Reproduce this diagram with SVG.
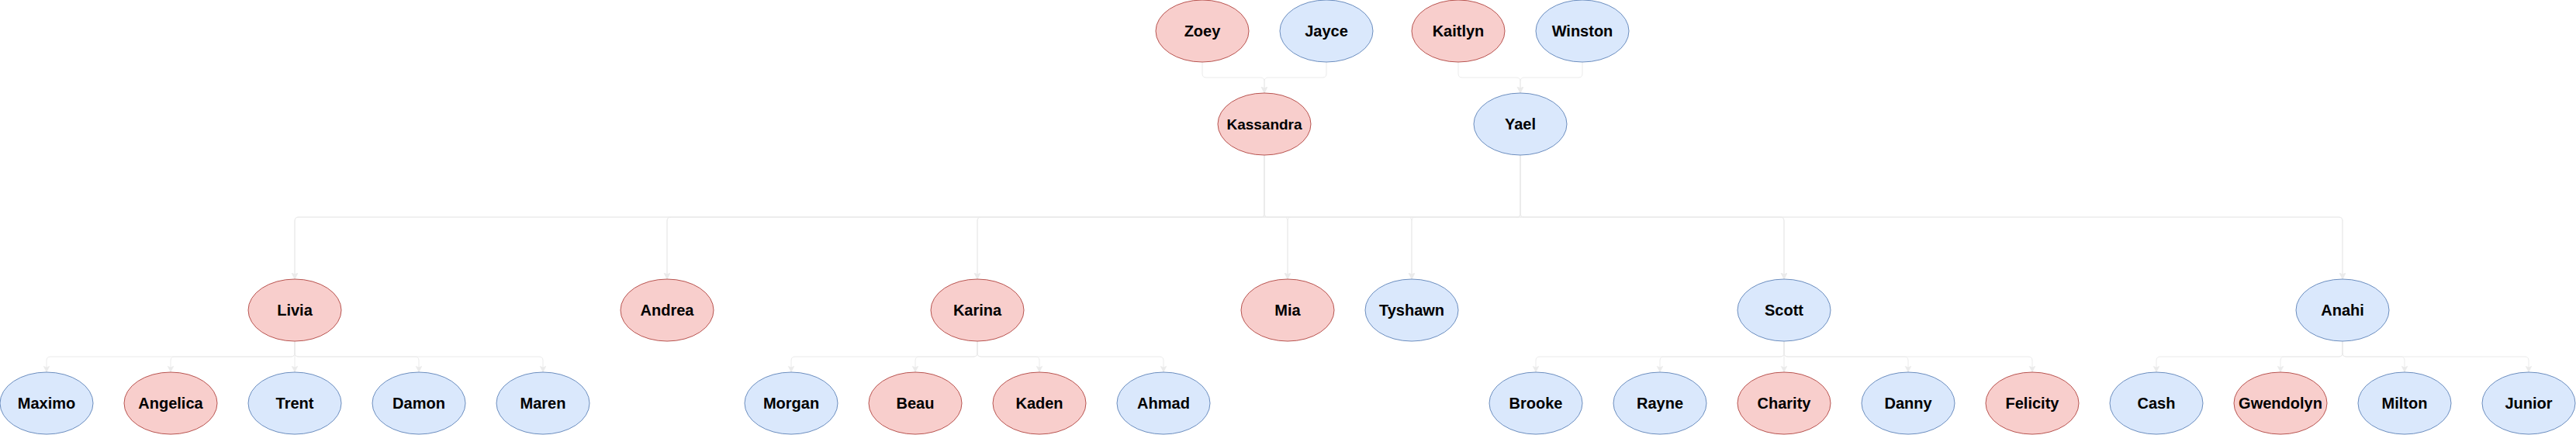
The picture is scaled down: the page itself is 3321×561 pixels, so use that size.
<svg xmlns="http://www.w3.org/2000/svg" width="3321" height="561" viewBox="0 0 3321 561">
<style>
.f{fill:#f8cecc;stroke:#b85450;stroke-width:1}
.m{fill:#dae8fc;stroke:#6c8ebf;stroke-width:1}
text{font-family:"Liberation Sans",Arial,Helvetica,sans-serif;font-weight:bold;font-size:20px;text-anchor:middle;fill:#000}
.e{fill:none;stroke:#ebebeb;stroke-width:1;marker-end:url(#arr)}
</style>
<defs>
<marker id="arr" markerUnits="userSpaceOnUse" markerWidth="10" markerHeight="10" refX="8" refY="4" orient="auto">
<path d="M0,0 L8,4 L0,8 L2,4 Z" fill="#ebebeb" stroke="#ebebeb" stroke-width="0.5"/>
</marker>
</defs>
<rect width="3321" height="561" fill="#ffffff"/>
<g id="connectors">
<path class="e" d="M1550 80 V95 Q1550 100 1555 100 H1625 Q1630 100 1630 105 V120"/>
<path class="e" d="M1710 80 V95 Q1710 100 1705 100 H1635 Q1630 100 1630 105 V120"/>
<path class="e" d="M1880 80 V95 Q1880 100 1885 100 H1955 Q1960 100 1960 105 V120"/>
<path class="e" d="M2040 80 V95 Q2040 100 2035 100 H1965 Q1960 100 1960 105 V120"/>
<path class="e" d="M1630 200 V275 Q1630 280 1625 280 H385 Q380 280 380 285 V360"/>
<path class="e" d="M1630 200 V275 Q1630 280 1625 280 H865 Q860 280 860 285 V360"/>
<path class="e" d="M1630 200 V275 Q1630 280 1625 280 H1265 Q1260 280 1260 285 V360"/>
<path class="e" d="M1630 200 V275 Q1630 280 1635 280 H1655 Q1660 280 1660 285 V360"/>
<path class="e" d="M1630 200 V275 Q1630 280 1635 280 H1815 Q1820 280 1820 285 V360"/>
<path class="e" d="M1630 200 V275 Q1630 280 1635 280 H2295 Q2300 280 2300 285 V360"/>
<path class="e" d="M1630 200 V275 Q1630 280 1635 280 H3015 Q3020 280 3020 285 V360"/>
<path class="e" d="M1960 200 V275 Q1960 280 1955 280 H385 Q380 280 380 285 V360"/>
<path class="e" d="M1960 200 V275 Q1960 280 1955 280 H865 Q860 280 860 285 V360"/>
<path class="e" d="M1960 200 V275 Q1960 280 1955 280 H1265 Q1260 280 1260 285 V360"/>
<path class="e" d="M1960 200 V275 Q1960 280 1955 280 H1665 Q1660 280 1660 285 V360"/>
<path class="e" d="M1960 200 V275 Q1960 280 1955 280 H1825 Q1820 280 1820 285 V360"/>
<path class="e" d="M1960 200 V275 Q1960 280 1965 280 H2295 Q2300 280 2300 285 V360"/>
<path class="e" d="M1960 200 V275 Q1960 280 1965 280 H3015 Q3020 280 3020 285 V360"/>
<path class="e" d="M380 440 V455 Q380 460 375 460 H65 Q60 460 60 465 V480"/>
<path class="e" d="M380 440 V455 Q380 460 375 460 H225 Q220 460 220 465 V480"/>
<path class="e" d="M380 440 V480"/>
<path class="e" d="M380 440 V455 Q380 460 385 460 H535 Q540 460 540 465 V480"/>
<path class="e" d="M380 440 V455 Q380 460 385 460 H695 Q700 460 700 465 V480"/>
<path class="e" d="M1260 440 V455 Q1260 460 1255 460 H1025 Q1020 460 1020 465 V480"/>
<path class="e" d="M1260 440 V455 Q1260 460 1255 460 H1185 Q1180 460 1180 465 V480"/>
<path class="e" d="M1260 440 V455 Q1260 460 1265 460 H1335 Q1340 460 1340 465 V480"/>
<path class="e" d="M1260 440 V455 Q1260 460 1265 460 H1495 Q1500 460 1500 465 V480"/>
<path class="e" d="M2300 440 V455 Q2300 460 2295 460 H1985 Q1980 460 1980 465 V480"/>
<path class="e" d="M2300 440 V455 Q2300 460 2295 460 H2145 Q2140 460 2140 465 V480"/>
<path class="e" d="M2300 440 V480"/>
<path class="e" d="M2300 440 V455 Q2300 460 2305 460 H2455 Q2460 460 2460 465 V480"/>
<path class="e" d="M2300 440 V455 Q2300 460 2305 460 H2615 Q2620 460 2620 465 V480"/>
<path class="e" d="M3020 440 V455 Q3020 460 3015 460 H2785 Q2780 460 2780 465 V480"/>
<path class="e" d="M3020 440 V455 Q3020 460 3015 460 H2945 Q2940 460 2940 465 V480"/>
<path class="e" d="M3020 440 V455 Q3020 460 3025 460 H3095 Q3100 460 3100 465 V480"/>
<path class="e" d="M3020 440 V455 Q3020 460 3025 460 H3255 Q3260 460 3260 465 V480"/>
</g>
<g id="zoey"><ellipse class="f" cx="1550" cy="40" rx="60" ry="40"/><text x="1550" y="47">Zoey</text></g>
<g id="jayce"><ellipse class="m" cx="1710" cy="40" rx="60" ry="40"/><text x="1710" y="47">Jayce</text></g>
<g id="kaitlyn"><ellipse class="f" cx="1880" cy="40" rx="60" ry="40"/><text x="1880" y="47">Kaitlyn</text></g>
<g id="winston"><ellipse class="m" cx="2040" cy="40" rx="60" ry="40"/><text x="2040" y="47">Winston</text></g>
<g id="kassandra"><ellipse class="f" cx="1630" cy="160" rx="60" ry="40"/><text x="1630" y="166.5" style="font-size:19px">Kassandra</text></g>
<g id="yael"><ellipse class="m" cx="1960" cy="160" rx="60" ry="40"/><text x="1960" y="167">Yael</text></g>
<g id="livia"><ellipse class="f" cx="380" cy="400" rx="60" ry="40"/><text x="380" y="407">Livia</text></g>
<g id="andrea"><ellipse class="f" cx="860" cy="400" rx="60" ry="40"/><text x="860" y="407">Andrea</text></g>
<g id="karina"><ellipse class="f" cx="1260" cy="400" rx="60" ry="40"/><text x="1260" y="407">Karina</text></g>
<g id="mia"><ellipse class="f" cx="1660" cy="400" rx="60" ry="40"/><text x="1660" y="407">Mia</text></g>
<g id="tyshawn"><ellipse class="m" cx="1820" cy="400" rx="60" ry="40"/><text x="1820" y="407">Tyshawn</text></g>
<g id="scott"><ellipse class="m" cx="2300" cy="400" rx="60" ry="40"/><text x="2300" y="407">Scott</text></g>
<g id="anahi"><ellipse class="m" cx="3020" cy="400" rx="60" ry="40"/><text x="3020" y="407">Anahi</text></g>
<g id="maximo"><ellipse class="m" cx="60" cy="520" rx="60" ry="40"/><text x="60" y="527">Maximo</text></g>
<g id="angelica"><ellipse class="f" cx="220" cy="520" rx="60" ry="40"/><text x="220" y="527">Angelica</text></g>
<g id="trent"><ellipse class="m" cx="380" cy="520" rx="60" ry="40"/><text x="380" y="527">Trent</text></g>
<g id="damon"><ellipse class="m" cx="540" cy="520" rx="60" ry="40"/><text x="540" y="527">Damon</text></g>
<g id="maren"><ellipse class="m" cx="700" cy="520" rx="60" ry="40"/><text x="700" y="527">Maren</text></g>
<g id="morgan"><ellipse class="m" cx="1020" cy="520" rx="60" ry="40"/><text x="1020" y="527">Morgan</text></g>
<g id="beau"><ellipse class="f" cx="1180" cy="520" rx="60" ry="40"/><text x="1180" y="527">Beau</text></g>
<g id="kaden"><ellipse class="f" cx="1340" cy="520" rx="60" ry="40"/><text x="1340" y="527">Kaden</text></g>
<g id="ahmad"><ellipse class="m" cx="1500" cy="520" rx="60" ry="40"/><text x="1500" y="527">Ahmad</text></g>
<g id="brooke"><ellipse class="m" cx="1980" cy="520" rx="60" ry="40"/><text x="1980" y="527">Brooke</text></g>
<g id="rayne"><ellipse class="m" cx="2140" cy="520" rx="60" ry="40"/><text x="2140" y="527">Rayne</text></g>
<g id="charity"><ellipse class="f" cx="2300" cy="520" rx="60" ry="40"/><text x="2300" y="527">Charity</text></g>
<g id="danny"><ellipse class="m" cx="2460" cy="520" rx="60" ry="40"/><text x="2460" y="527">Danny</text></g>
<g id="felicity"><ellipse class="f" cx="2620" cy="520" rx="60" ry="40"/><text x="2620" y="527">Felicity</text></g>
<g id="cash"><ellipse class="m" cx="2780" cy="520" rx="60" ry="40"/><text x="2780" y="527">Cash</text></g>
<g id="gwendolyn"><ellipse class="f" cx="2940" cy="520" rx="60" ry="40"/><text x="2940" y="527">Gwendolyn</text></g>
<g id="milton"><ellipse class="m" cx="3100" cy="520" rx="60" ry="40"/><text x="3100" y="527">Milton</text></g>
<g id="junior"><ellipse class="m" cx="3260" cy="520" rx="60" ry="40"/><text x="3260" y="527">Junior</text></g>
</svg>
